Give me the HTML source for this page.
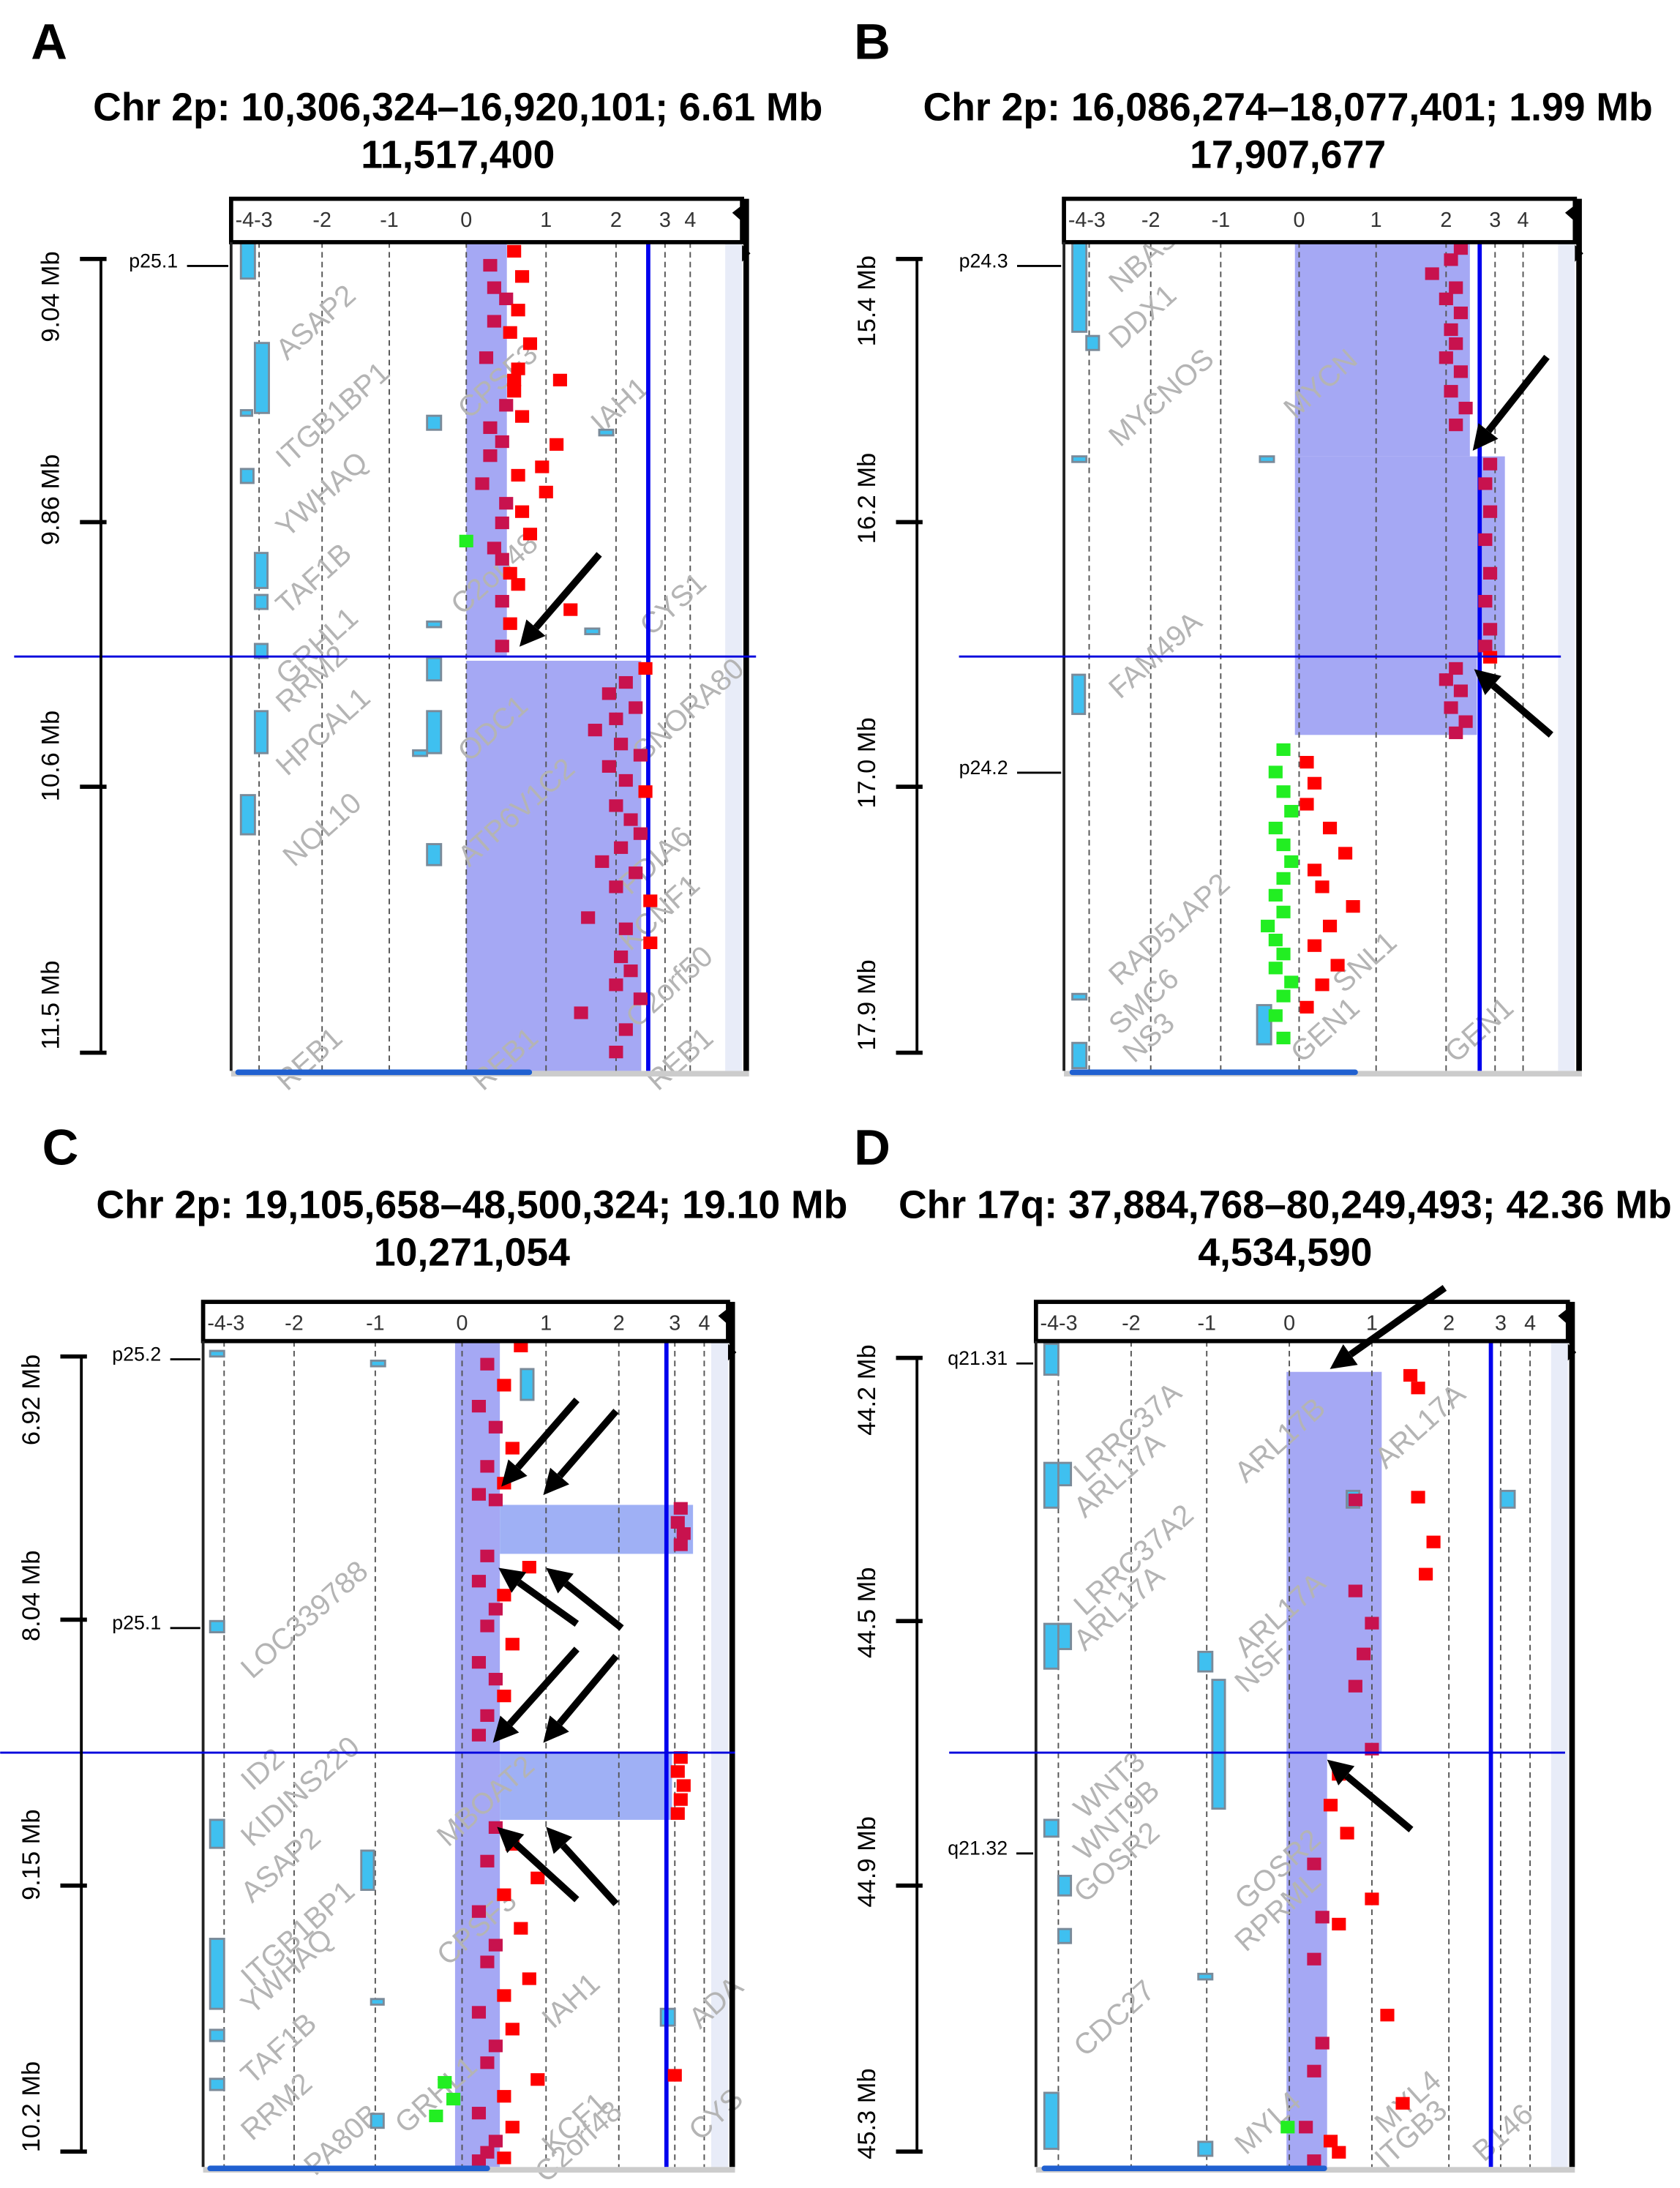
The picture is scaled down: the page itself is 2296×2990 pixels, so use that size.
<!DOCTYPE html>
<html><head><meta charset="utf-8">
<style>
html,body{margin:0;padding:0;background:#fff;}
svg{display:block;font-family:"Liberation Sans",Arial,sans-serif;}
</style></head>
<body>
<svg id="fig" width="2296" height="2990" viewBox="0 0 1200 1563" xmlns="http://www.w3.org/2000/svg">
<rect x="0" y="0" width="1200" height="1563" fill="#fff"/>
</svg>
<script>
// ---------- DATA ----------
const tickLabels = ['-4-3','','-2','-1','0','1','2','3','4'];
const tickValues = [-4,-3,-2,-1,0,1,2,3,4];

// Panel A
const aTitle = ['Chr 2p: 10,306,324\u201316,920,101; 6.61 Mb','11,517,400'];
const aMb = ['9.04 Mb','9.86 Mb','10.6 Mb','11.5 Mb'];
const aRedX = [0.6,0.3,0.7,0.35,0.5,0.65,0.35,0.55,0.8,0.25,0.65,0.6,1.2,0.6,0.5,0.7,0.3,0.45,1.15,0.3,0.95,0.65,0.2,1.0,0.5,0.7,0.45,0.8,0.35,0.45,0.55,0.65,0.45,1.35,0.55,0.45];
const aRedY = [180,190,198,206,214,222,230,238,246,256,264,272,272,280,290,298,306,316,318,326,334,340,346,352,360,366,374,382,392,400,410,418,430,436,446,462];
const aRed2X = [2.6,2.2,1.9,2.4,2.0,1.7,2.1,2.5,1.9,2.2,2.6,2.0,2.3,2.5,2.1,1.8,2.4,2.0,2.7,1.6,2.2,2.7,2.1,2.3,2.0,2.5,1.5,2.2,2.0];
const aRed2Y = [478,488,496,506,514,522,532,540,548,558,566,576,586,596,606,616,624,634,644,656,664,674,684,694,704,714,724,736,752];
const aGreenX = [0.0];
const aGreenY = [387];

// Panel B
const bTitle = ['Chr 2p: 16,086,274\u201318,077,401; 1.99 Mb','17,907,677'];
const bMb = ['15.4 Mb','16.2 Mb','17.0 Mb','17.9 Mb'];
const bRedX = [2.3,2.1,1.8,2.2,2.0,2.3,2.1,2.2,2.0,2.3,2.1,2.4,2.2,2.9,2.8,2.9,2.8,2.9,2.8,2.9,2.8,2.9,2.2,2.0,2.3,2.1,2.4,2.2,0.1,0.2,0.1,0.4,0.6,0.2,0.3,0.7,0.4,0.2,0.5,0.3,0.1];
const bRedY = [178,186,196,206,214,224,236,246,256,266,280,292,304,332,346,366,386,410,430,450,462,470,478,486,494,506,516,524,545,560,575,592,610,622,634,648,662,676,690,704,720];
const bGreenX = [-0.2,-0.3,-0.2,-0.1,-0.3,-0.2,-0.1,-0.2,-0.3,-0.2,-0.4,-0.3,-0.2,-0.3,-0.1,-0.2,-0.3,-0.2];
const bGreenY = [536,552,566,580,592,604,616,628,640,652,662,672,682,692,702,712,726,742];

// Panel C
const cTitle = ['Chr 2p: 19,105,658\u201348,500,324; 19.10 Mb','10,271,054'];
const cMb = ['6.92 Mb','8.04 Mb','9.15 Mb','10.2 Mb'];
const cRedX = [0.7,0.3,0.5,0.2,0.4,0.6,0.3,0.5,0.2,0.4,3.2,3.1,3.3,3.2,0.3,0.8,0.2,0.5,0.4,0.3,0.6,0.2,0.4,0.5,0.3,0.2,3.2,3.1,3.3,3.2,3.1,0.4,0.6,0.3,0.9,0.5,0.2,0.7,0.4,0.3,0.8,0.5,0.2,0.6,0.4,0.3,0.9,0.5,0.2,0.6,0.4,3.0,0.3,0.5,0.2];
const cRedY = [962,975,990,1005,1020,1035,1048,1060,1068,1072,1078,1088,1096,1104,1112,1120,1130,1140,1150,1162,1175,1188,1200,1212,1226,1240,1256,1266,1276,1286,1296,1306,1318,1330,1342,1354,1366,1378,1390,1402,1414,1426,1438,1450,1462,1474,1486,1498,1510,1520,1530,1483,1538,1542,1544];
const cGreenX = [-0.2,-0.1,-0.3];
const cGreenY = [1488,1500,1512];

// Panel D
const dTitle = ['Chr 17q: 37,884,768\u201380,249,493; 42.36 Mb','4,534,590'];
const dMb = ['44.2 Mb','44.5 Mb','44.9 Mb','45.3 Mb'];
const dRedX = [1.5,1.6,1.6,0.8,1.8,1.7,0.8,1.0,0.9,0.8,1.0,0.6,0.5,0.7,0.3,1.0,0.4,0.6,0.3,1.2,0.4,0.3,1.4,0.2,0.5,0.6,0.3];
const dRedY = [983,992,1070,1072,1102,1125,1137,1160,1182,1205,1250,1268,1290,1310,1332,1357,1370,1375,1400,1440,1460,1480,1503,1520,1530,1538,1544];
const dGreenX = [-0.02];
const dGreenY = [1520];

// ---------- DRAWING ----------
const svg = document.getElementById('fig');
const NS = 'http://www.w3.org/2000/svg';
function mk(tag, attrs, parent){
  const e = document.createElementNS(NS, tag);
  for (const k in attrs) e.setAttribute(k, attrs[k]);
  (parent||svg).appendChild(e);
  return e;
}
function makeScale(px){
  return function(v){
    if (v <= tickValues[0]) return px[0];
    for (let i=0;i<tickValues.length-1;i++){
      if (v <= tickValues[i+1]){
        const t=(v-tickValues[i])/(tickValues[i+1]-tickValues[i]);
        return px[i]+t*(px[i+1]-px[i]);
      }
    }
    return px[px.length-1];
  };
}

function panel(cfg){
  const g = mk('g', {});
  
  
  const sx = makeScale(cfg.tickPx);
  const L = mk('text',{x:cfg.letter[1],y:cfg.letter[2],'font-size':36,'font-weight':'bold',fill:'#000'},g);
  L.textContent = cfg.letter[0];
  
  
  cfg.title.forEach((t,i)=>{
    const e = mk('text',{x:cfg.titleX,y:cfg.titleY+i*34,'font-size':28,'font-weight':'bold','text-anchor':'middle',fill:'#000'},g);
    e.textContent = t;
    
    
  });
  const x0=cfg.frame[0], x1=cfg.frame[1], hy0=cfg.hy0, hy1=cfg.hy1, y1=cfg.y1;
  mk('rect',{x:x1-12,y:hy1,width:12,height:y1-hy1,fill:'#e8ecf8'},g);
  cfg.segs.forEach(s=>{
    const r = mk('rect',{x:s[0],y:s[1],width:s[2]-s[0],height:s[3]-s[1],fill:s[4]||'#a5a8f4'},g);
    
    
  });
  cfg.tickPx.forEach((p,i)=>{
    if(i===0) return;
    const l = mk('line',{x1:p,x2:p,y1:hy1,y2:y1,stroke:'#555','stroke-width':1,'stroke-dasharray':'4,3'},g);
    
    
  });
  cfg.genes.forEach(gn=>{
    const t = mk('text',{x:gn[1],y:gn[2],'font-size':21,fill:'#b4b4b4','transform':`rotate(-42 ${gn[1]} ${gn[2]})`},g);
    t.textContent = gn[0];
    
    
  });
  cfg.boxes.forEach(b=>{
    const r = mk('rect',{x:b[0],y:b[1],width:b[2],height:b[3],fill:'#3fc0f0',stroke:'#7a8a99','stroke-width':1.5},g);
    
    
  });
  const th = mk('line',{x1:cfg.thr,x2:cfg.thr,y1:hy1,y2:y1,stroke:'#0000ee','stroke-width':3},g);
  
  
  function pts(xs,ys,color,name){
    xs.forEach((v,i)=>{
      const px = sx(v), py = ys[i];
      let c = color;
      if(!c){
        c = '#ff0000';
        cfg.segs.forEach(s=>{ if(px>=s[0]&&px<=s[2]&&py>=s[1]&&py<=s[3]) c='#c8124e'; });
      }
      const r = mk('rect',{x:px-5,y:py-5,width:10,height:9,fill:c},g);
      
      
    });
  }
  cfg.points.forEach(p=>pts(p[0],p[1],p[2],p[3]));
  const hr = mk('rect',{x:x0,y:hy0,width:x1-x0,height:hy1-hy0,fill:'#fff',stroke:'#000','stroke-width':3},g);
  
  
  cfg.tickPx.forEach((p,i)=>{
    if(!tickLabels[i]) return;
    const t = mk('text',{x:i===0?x0+3:p,y:hy0+20,'font-size':15,fill:'#333','text-anchor':i===0?'start':'middle'},g);
    t.textContent = tickLabels[i];
    
    
  });
  mk('line',{x1:x0,x2:x0,y1:hy1,y2:y1,stroke:'#222','stroke-width':2},g);
  const rb = mk('rect',{x:x1+1,y:hy0,width:4,height:y1-hy0,fill:'#000'},g);
  
  
  mk('path',{d:`M${x1-7} ${hy0+10} L${x1+2} ${hy0+3} L${x1+2} ${hy0+18}Z`,fill:'#000'},g);
  mk('path',{d:`M${x1} ${hy1+2} L${x1+6} ${hy1+8} L${x1} ${hy1+14}Z`,fill:'#000'},g);
  mk('rect',{x:x0,y:y1,width:x1-x0+5,height:4,fill:'#ccc'},g);
  mk('rect',{x:cfg.bottomBlue[0],y:y1-1,width:cfg.bottomBlue[1]-cfg.bottomBlue[0],height:4,fill:'#2060d0',rx:2},g);
  const hl = mk('line',{x1:cfg.hline[0],x2:cfg.hline[1],y1:cfg.hline[2],y2:cfg.hline[2],stroke:'#0000dd','stroke-width':1.5},g);
  
  
  const ax = cfg.scaleX;
  mk('line',{x1:ax,x2:ax,y1:cfg.scaleTicks[0],y2:cfg.scaleTicks[3],stroke:'#000','stroke-width':2},g);
  cfg.scaleTicks.forEach((ty,i)=>{
    const tk = mk('line',{x1:ax-15,x2:ax+4,y1:ty,y2:ty,stroke:'#000','stroke-width':3},g);
    
    
    const lx = ax-30, ly = cfg.mbY[i];
    const t = mk('text',{x:lx,y:ly,'font-size':18,fill:'#000','text-anchor':'middle',transform:`rotate(-90 ${lx} ${ly})`},g);
    t.textContent = cfg.mb[i];
    
    
  });
  cfg.bands.forEach(b=>{
    const t = mk('text',{x:b[1],y:b[2]+5,'font-size':14,fill:'#000'},g);
    t.textContent = b[0];
    
    
    mk('line',{x1:b[1]+b[0].length*7.5+4,x2:x0-2,y1:b[2]+4,y2:b[2]+4,stroke:'#000','stroke-width':1.5},g);
  });
  cfg.arrows.forEach(a=>{
    const [xa,ya,xb,yb]=a;
    const ang=Math.atan2(yb-ya,xb-xa), L2=18, W=9;
    const bx=xb-L2*Math.cos(ang), by=yb-L2*Math.sin(ang);
    mk('line',{x1:xa,y1:ya,x2:bx,y2:by,stroke:'#000','stroke-width':5},g);
    const p = mk('path',{d:`M${xb} ${yb} L${bx+W*Math.sin(ang)} ${by-W*Math.cos(ang)} L${bx-W*Math.sin(ang)} ${by+W*Math.cos(ang)}Z`,fill:'#000'},g);
    
    
  });
}

panel({name:'panel-a',letter:['A',22,42],title:aTitle,titleX:327,titleY:86,
  frame:[165,530],hy0:142,hy1:173,y1:765,
  tickPx:[175,185,230,278,333,390,440,475,493],thr:463,
  segs:[[333,173,362,469],[333,472,458,765]],
  points:[[aRedX,aRedY,null,'probe-point'],[aRed2X,aRed2Y,null,'probe-point'],[aGreenX,aGreenY,'#22ee22','probe-point-loss']],
  genes:[['ASAP2',205,258],['ITGB1BP1',205,335],['YWHAQ',205,385],['TAF1B',205,440],['GRHL1',205,490],['RRM2',205,510],['HPCAL1',205,555],['NOL10',210,620],['CPSF3',335,300],['IAH1',430,310],['C2orf48',330,440],['CYS1',465,455],['ODC1',335,545],['ATP6V1C2',335,620],['SNORA80',460,545],['PDIA6',450,640],['KCNF1',450,680],['C2orf50',455,735],['REB1',205,780],['REB1',345,780],['REB1',470,780]],
  boxes:[[172,173,10,26],[182,245,10,50],[172,293,8,4],[172,335,9,10],[182,395,9,25],[182,425,9,10],[305,297,10,10],[305,444,10,4],[428,307,10,4],[418,449,10,4],[182,460,9,10],[305,470,10,16],[182,508,9,30],[305,508,10,30],[295,536,10,4],[172,568,10,28],[305,603,10,15]],
  bottomBlue:[168,380],hline:[10,540,469],
  scaleX:72,scaleTicks:[185,373,562,752],mb:aMb,mbY:[212,357,540,718],
  bands:[['p25.1',92,186]],
  arrows:[[428,396,371,462]]});

panel({name:'panel-b',letter:['B',610,42],title:bTitle,titleX:920,titleY:86,
  frame:[760,1125],hy0:142,hy1:173,y1:765,
  tickPx:[768,778,822,872,928,983,1033,1068,1088],thr:1057,
  segs:[[925,173,1050,326],[925,326,1075,469],[925,469,1055,525]],
  points:[[bRedX,bRedY,null,'probe-point'],[bGreenX,bGreenY,'#22ee22','probe-point-loss']],
  genes:[['NBAS',800,210],['DDX1',800,250],['MYCNOS',800,320],['MYCN',925,300],['FAM49A',800,500],['RAD51AP2',800,705],['SMC6',800,740],['GEN1',1040,760],['SNL1',960,710],['GEN1',930,760],['NS3',810,760]],
  boxes:[[766,173,10,64],[776,240,9,10],[766,326,10,4],[900,326,10,4],[766,482,9,28],[766,710,10,4],[898,718,10,28],[766,745,10,18]],
  bottomBlue:[764,970],hline:[685,1115,469],
  scaleX:655,scaleTicks:[185,373,562,752],mb:bMb,mbY:[215,356,545,718],
  bands:[['p24.3',685,186],['p24.2',685,548]],
  arrows:[[1105,255,1052,322],[1108,525,1053,478]]});

panel({name:'panel-c',letter:['C',30,832],title:cTitle,titleX:337,titleY:870,
  frame:[145,520],hy0:930,hy1:958,y1:1548,
  tickPx:[150,160,210,268,330,390,442,482,503],thr:476,
  segs:[[325,958,357,1548],[357,1075,495,1110,'#9fb0f5'],[357,1252,480,1300,'#9fb0f5']],
  points:[[cRedX,cRedY,null,'probe-point'],[cGreenX,cGreenY,'#22ee22','probe-point-loss']],
  genes:[['LOC339788',180,1200],['ID2',180,1280],['KIDINS220',180,1320],['ASAP2',180,1360],['ITGB1BP1',180,1420],['YWHAQ',180,1440],['TAF1B',180,1490],['RRM2',180,1530],['PA80B',225,1555],['GRHL1',290,1525],['MBOAT2',320,1320],['CPSF3',320,1405],['IAH1',395,1450],['KCF1',395,1540],['C2orf48',390,1560],['ADA',500,1450],['CYS',500,1530]],
  boxes:[[150,965,10,4],[150,1158,10,8],[265,972,10,4],[150,1300,10,20],[258,1322,9,28],[150,1385,10,50],[150,1450,10,8],[150,1485,10,8],[265,1428,9,4],[265,1510,9,10],[372,978,9,22],[472,1435,10,12]],
  bottomBlue:[148,350],hline:[0,525,1252],
  scaleX:58,scaleTicks:[969,1157,1347,1537],mb:cMb,mbY:[1000,1140,1325,1505],
  bands:[['p25.2',80,967],['p25.1',80,1159]],
  arrows:[[412,1000,358,1062],[440,1008,388,1068],[412,1160,356,1120],[444,1163,390,1120],[412,1178,352,1245],[440,1183,388,1245],[412,1357,355,1305],[440,1360,390,1305]]});

panel({name:'panel-d',letter:['D',610,832],title:dTitle,titleX:918,titleY:870,
  frame:[740,1120],hy0:930,hy1:958,y1:1548,
  tickPx:[745,756,808,862,921,980,1035,1072,1093],thr:1065,
  segs:[[919,980,987,1252],[919,1252,948,1548]],
  points:[[dRedX,dRedY,null,'probe-point'],[dGreenX,dGreenY,'#22ee22','probe-point-loss']],
  genes:[['LRRC37A',775,1060],['ARL17A',775,1085],['LRRC37A2',775,1155],['ARL17A',775,1180],['ARL17B',890,1060],['ARL17A',990,1050],['ARL17A',890,1185],['NSF',890,1210],['WNT3',775,1300],['WNT9B',775,1330],['GOSR2',775,1360],['GOSR2',890,1365],['RPRML',890,1395],['CDC27',775,1470],['MYL4',890,1540],['MYL4',990,1525],['ITGB3',990,1550],['B146',1060,1545]],
  boxes:[[746,960,10,22],[746,1045,10,32],[756,1045,9,16],[746,1160,10,32],[756,1160,9,18],[856,1180,10,14],[866,1200,9,92],[746,1300,10,12],[756,1340,9,14],[756,1378,9,10],[856,1410,10,4],[746,1495,10,40],[856,1530,10,10],[962,1065,9,12],[1072,1065,10,12]],
  bottomBlue:[744,948],hline:[678,1118,1252],
  scaleX:655,scaleTicks:[970,1158,1347,1537],mb:dMb,mbY:[993,1152,1330,1510],
  bands:[['q21.31',677,970],['q21.32',677,1320]],
  arrows:[[1032,920,950,978],[1008,1307,948,1257]]});
</script>
</body></html>
